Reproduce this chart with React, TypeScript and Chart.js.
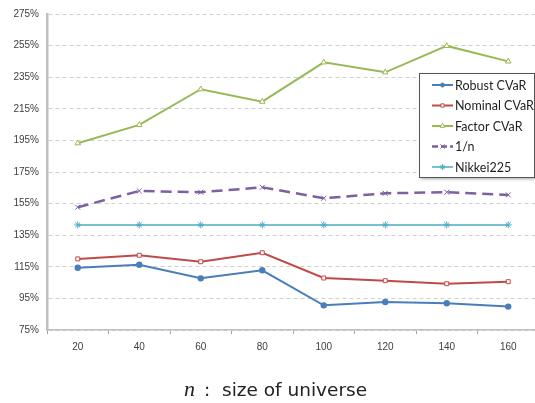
import { useEffect, useRef } from "react";
import { Chart, registerables } from "chart.js";
import { drawPoint } from "chart.js/helpers";

Chart.register(...registerables);

// Universe sizes on the horizontal axis
const universeSizes = ["20", "40", "60", "80", "100", "120", "140", "160"];

// Cumulative return (%) per strategy
const robustCVaR = [114.4, 116.3, 107.7, 112.8, 90.6, 92.7, 91.9, 89.8];
const nominalCVaR = [120.0, 122.3, 118.2, 123.9, 107.9, 106.2, 104.3, 105.6];
const factorCVaR = [193.2, 204.8, 227.4, 219.5, 244.4, 238.1, 254.8, 245.0];
const equalWeight = [152.7, 163.0, 162.2, 165.3, 158.4, 161.5, 162.2, 160.5];
const nikkei225 = [141.5, 141.5, 141.5, 141.5, 141.5, 141.5, 141.5, 141.5];

const seriesNames = ["Robust CVaR", "Nominal CVaR", "Factor CVaR", "1/n", "Nikkei225"];

const yMin = 75;
const yMax = 275;
const yStep = 20;

const FONT = '"Liberation Sans", Arial, sans-serif';
const LEGEND_FONT = 'Lato, "Liberation Sans", sans-serif';
const CAPTION_FONT = '"DejaVu Sans", "Liberation Sans", sans-serif';

// Boxed legend drawn inside the plot area, with a drop shadow
const boxLegend = {
  id: "boxLegend",
  afterDraw(chart: any) {
    const ctx = chart.ctx as CanvasRenderingContext2D;
    const x = 419;
    const y = 73;
    const w = 115;
    const h = 104;
    ctx.save();
    ctx.shadowColor = "rgba(0,0,0,0.35)";
    ctx.shadowOffsetX = 2;
    ctx.shadowOffsetY = 2;
    ctx.shadowBlur = 3;
    ctx.fillStyle = "#ffffff";
    ctx.fillRect(x, y, w, h);
    ctx.restore();

    ctx.save();
    ctx.strokeStyle = "#555555";
    ctx.lineWidth = 1;
    ctx.strokeRect(x + 0.5, y + 0.5, w, h);

    chart.data.datasets.forEach((ds: any, i: number) => {
      const cy = y + 12 + i * 20.5;
      const x0 = 432;
      const x1 = 453;
      ctx.save();
      ctx.strokeStyle = ds.borderColor;
      ctx.lineWidth = ds.borderWidth;
      ctx.setLineDash(ds.borderDash && ds.borderDash.length ? [6, 3] : []);
      ctx.beginPath();
      ctx.moveTo(x0, cy);
      ctx.lineTo(x1, cy);
      ctx.stroke();
      ctx.setLineDash([]);
      ctx.fillStyle = ds.pointBackgroundColor;
      ctx.strokeStyle = ds.pointBorderColor;
      ctx.lineWidth = 1;
      drawPoint(
        ctx,
        { pointStyle: ds.pointStyle, radius: Math.max(2, ds.pointRadius - 0.5), rotation: 0, borderWidth: 1 } as any,
        (x0 + x1) / 2,
        cy
      );
      ctx.restore();

      ctx.fillStyle = "#1f1f1f";
      ctx.font = `12.5px ${LEGEND_FONT}`;
      ctx.textAlign = "left";
      ctx.textBaseline = "middle";
      ctx.fillText(ds.label, 455, cy + 0.5);
    });
    ctx.restore();
  },
};

// Axis caption below the chart: "n : size of universe"
const axisCaption = {
  id: "axisCaption",
  afterDraw(chart: any) {
    const ctx = chart.ctx as CanvasRenderingContext2D;
    const baseline = 396;
    ctx.save();
    ctx.fillStyle = "#222222";
    ctx.textBaseline = "alphabetic";
    ctx.textAlign = "left";
    ctx.font = 'italic 22px "Liberation Serif", "DejaVu Serif", serif';
    ctx.fillText("n", 184, baseline);
    ctx.font = `18.5px ${CAPTION_FONT}`;
    ctx.fillText(":", 204, baseline);
    ctx.fillText("size of universe", 222, baseline);
    ctx.restore();
  },
};

export default function App() {
  const canvasRef = useRef<HTMLCanvasElement | null>(null);

  useEffect(() => {
    const canvas = canvasRef.current;
    if (!canvas) return;

    const chart = new Chart(canvas, {
      type: "line",
      data: {
        labels: universeSizes,
        datasets: [
          {
            label: seriesNames[0],
            data: robustCVaR,
            borderColor: "#4a7ebb",
            borderWidth: 2,
            pointStyle: "circle",
            pointRadius: 2.2,
            pointBackgroundColor: "#4a7ebb",
            pointBorderColor: "#4a7ebb",
            tension: 0,
          },
          {
            label: seriesNames[1],
            data: nominalCVaR,
            borderColor: "#be4b48",
            borderWidth: 2,
            pointStyle: "rect",
            pointRadius: 2.8,
            pointBackgroundColor: "#ffffff",
            pointBorderColor: "#be4b48",
            pointBorderWidth: 1,
            tension: 0,
          },
          {
            label: seriesNames[2],
            data: factorCVaR,
            borderColor: "#98b954",
            borderWidth: 2,
            pointStyle: "triangle",
            pointRadius: 3.2,
            pointBackgroundColor: "#ffffff",
            pointBorderColor: "#98b954",
            pointBorderWidth: 1,
            tension: 0,
          },
          {
            label: seriesNames[3],
            data: equalWeight,
            borderColor: "#7d60a0",
            borderWidth: 2.5,
            borderDash: [11, 6],
            pointStyle: "crossRot",
            pointRadius: 3.5,
            pointBackgroundColor: "#7d60a0",
            pointBorderColor: "#7d60a0",
            pointBorderWidth: 1,
            tension: 0,
          },
          {
            label: seriesNames[4],
            data: nikkei225,
            borderColor: "#4bacc6",
            borderWidth: 1.5,
            pointStyle: "star",
            pointRadius: 3.5,
            pointBackgroundColor: "#4bacc6",
            pointBorderColor: "#4bacc6",
            pointBorderWidth: 1,
            tension: 0,
          },
        ],
      },
      options: {
        responsive: false,
        animation: false,
        devicePixelRatio: 1,
        layout: { padding: { top: 14, right: 5, bottom: 0, left: 0 } },
        plugins: {
          legend: { display: false },
          tooltip: { enabled: false },
          title: { display: false },
        },
        scales: {
          x: {
            type: "category",
            offset: true,
            grid: {
              display: true,
              offset: true,
              drawOnChartArea: false,
              drawTicks: true,
              tickLength: 4,
              color: "#a6a6a6",
            },
            border: { display: true, color: "#bfbfbf", width: 1.5 },
            ticks: {
              color: "#404040",
              font: { family: FONT, size: 10 },
              padding: 7,
              maxRotation: 0,
            },
            afterFit: (scale: any) => {
              scale.height = 73;
            },
          },
          y: {
            min: yMin,
            max: yMax,
            grid: {
              color: "#d0d0d0",
              lineWidth: 1,
              drawTicks: false,
            },
            border: { display: true, color: "#bfbfbf", width: 2.5, dash: [4, 3] },
            ticks: {
              stepSize: yStep,
              color: "#404040",
              font: { family: FONT, size: 10 },
              padding: 8,
              callback: (v: any) => `${v}%`,
            },
            afterFit: (scale: any) => {
              scale.width = 47;
            },
          },
        },
      },
      plugins: [boxLegend, axisCaption],
    });

    return () => chart.destroy();
  }, []);

  return (
    <div
      style={{
        position: "fixed",
        left: 0,
        top: 0,
        width: 545,
        height: 403,
        background: "#ffffff",
      }}
    >
      <canvas ref={canvasRef} width={545} height={403} />
    </div>
  );
}
